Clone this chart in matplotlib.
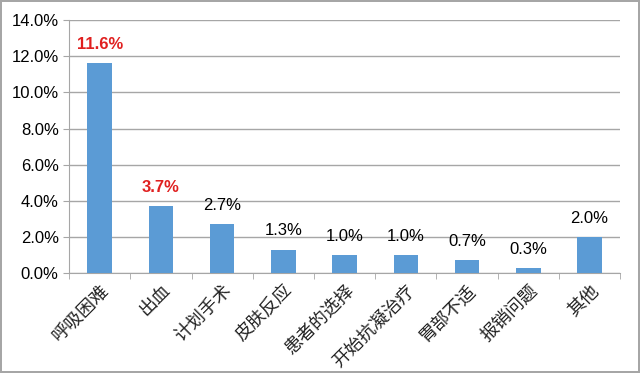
import numpy as np
import matplotlib.pyplot as plt

categories = ['呼吸困难', '出血', '计划手术', '皮肤反应', '患者的选择',
              '开始抗凝治疗', '胃部不适', '报销问题', '其他']
values = [11.6, 3.7, 2.7, 1.3, 1.0, 1.0, 0.7, 0.3, 2.0]
highlight = [True, True, False, False, False, False, False, False, False]
yticks = [0, 2, 4, 6, 8, 10, 12, 14]

plt.rcParams['font.family'] = ['Liberation Sans', 'Noto Sans CJK SC', 'DejaVu Sans']

fig = plt.figure(figsize=(6.4, 3.73), dpi=100)
fig.patch.set_edgecolor('#a6a6a6')
fig.patch.set_linewidth(1.5)
ax = fig.add_axes([0.108, 0.268, 0.861, 0.678])

x = np.arange(len(categories))
ax.bar(x, values, width=0.4, color='#5b9bd5', zorder=3)

for xi, v, hl in zip(x, values, highlight):
    ax.annotate(f'{v:.1f}%', (xi, v), xytext=(0, 8), textcoords='offset points',
                ha='center', va='bottom', fontsize=12,
                color='#e02020' if hl else 'black',
                fontweight='bold' if hl else 'normal', zorder=4)

ax.set_xlim(-0.5, len(categories) - 0.5)
ax.set_ylim(0, 14)
ax.set_yticks(yticks)
ax.set_yticklabels([f'{t:.1f}%' for t in yticks], fontsize=12)
ax.yaxis.grid(True, color='#a6a6a6', linewidth=1, zorder=0)

ax.set_xticks(x)
ax.set_xticklabels(categories, rotation=45, ha='right', rotation_mode='anchor',
                   fontsize=13, family=['Noto Sans CJK SC', 'DejaVu Sans'], color='#222222')
ax.set_xticks(np.arange(len(categories) + 1) - 0.5, minor=True)
ax.tick_params(axis='x', which='major', length=0, pad=6)
ax.tick_params(axis='x', which='minor', length=4, color='#a6a6a6')
ax.tick_params(axis='y', length=4, color='#a6a6a6')

for side in ['top', 'right']:
    ax.spines[side].set_visible(False)
ax.spines['left'].set_color('#a6a6a6')
ax.spines['bottom'].set_color('#a6a6a6')

fig.savefig('out.png', dpi=100)
